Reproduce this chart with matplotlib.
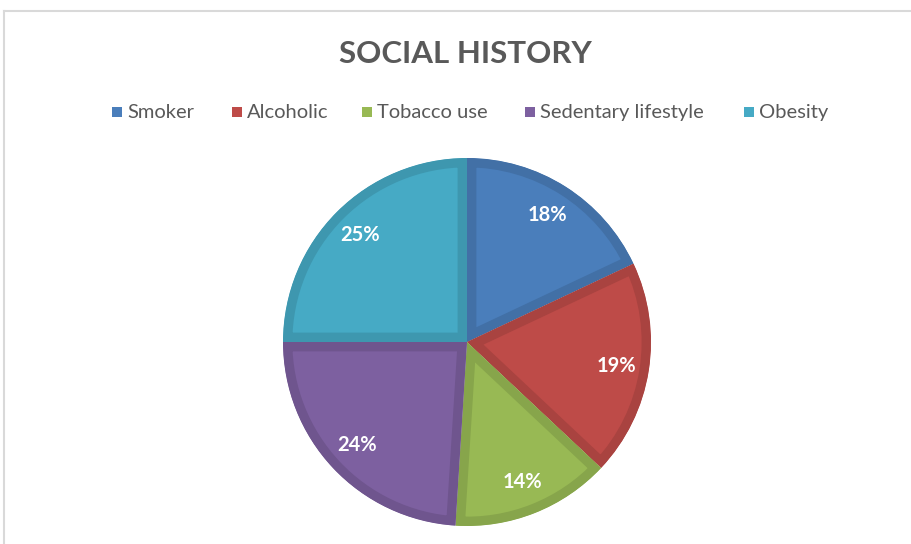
#!/usr/bin/env python3
'''
Social history pie chart
'''
import matplotlib
matplotlib.use('Agg')
import matplotlib.pyplot as plt
from matplotlib.lines import Line2D
from matplotlib.patches import Rectangle
import numpy as np

LABELS = ['Smoker', 'Alcoholic', 'Tobacco use', 'Sedentary lifestyle', 'Obesity']
SHARES = [18, 19, 14, 24, 25]
COLORS = ['#4a7ebb', '#be4b48', '#98b954', '#7d60a0', '#46aac5']
TITLE = 'SOCIAL HISTORY'

TEXT_COLOR = '#595959'
FONT = ['Lato', 'DejaVu Sans']


def darker(hex_color, k=0.89):
    ''' Shade a colour for the wedge rim '''
    rgb = np.array(matplotlib.colors.to_rgb(hex_color))
    return tuple(rgb * k)


def main():
    ''' Draw the chart '''
    w_px, h_px = 912, 544
    fig = plt.figure(figsize=(w_px / 100, h_px / 100), dpi=100)
    fig.set_facecolor('white')
    ax = fig.add_axes([0, 0, 1, 1])
    ax.set_xlim(0, w_px)
    ax.set_ylim(0, h_px)
    ax.set_aspect('equal')
    ax.axis('off')

    # chart frame, only the top and left edges fall inside the picture
    frame = '#d9d9d9'
    ax.add_line(Line2D([4.5, 4.5], [0, h_px - 10.5], color=frame, lw=1.5))
    ax.add_line(Line2D([4.5, w_px], [h_px - 10.5, h_px - 10.5], color=frame, lw=1.5))

    ax.text(465, h_px - 54, TITLE, ha='center', va='center', fontsize=22.5,
            fontweight='bold', color=TEXT_COLOR, family=FONT)

    # legend row
    marker_x = [112, 232, 362, 525, 744]
    legend_y = h_px - 112
    for x, label, color in zip(marker_x, LABELS, COLORS):
        ax.add_patch(Rectangle((x, legend_y - 5), 10, 10, facecolor=color,
                               edgecolor='none'))
        ax.text(x + 15, legend_y, label, ha='left', va='center', fontsize=14.5,
                color=TEXT_COLOR, family=FONT)

    # pie, clockwise from twelve o'clock, with a darker rim inside each wedge
    center = (467, h_px - 342)
    radius = 184
    wedges, _, autotexts = ax.pie(
        SHARES, colors=COLORS, startangle=90, counterclock=False,
        center=center, radius=radius, autopct='%d%%', pctdistance=0.82,
        wedgeprops=dict(linewidth=0), frame=True)
    ax.set_xlim(0, w_px)
    ax.set_ylim(0, h_px)
    ax.axis('off')

    for wedge, color in zip(wedges, COLORS):
        wedge.set_edgecolor(darker(color))
        wedge.set_linewidth(13.5)
        wedge.set_clip_path(wedge)
        wedge.set_clip_on(True)

    for t in autotexts:
        t.set_color('white')
        t.set_fontsize(14.5)
        t.set_fontweight('bold')
        t.set_family(FONT)

    fig.savefig('out.png', dpi=100, facecolor='white')


if __name__ == '__main__':
    main()
